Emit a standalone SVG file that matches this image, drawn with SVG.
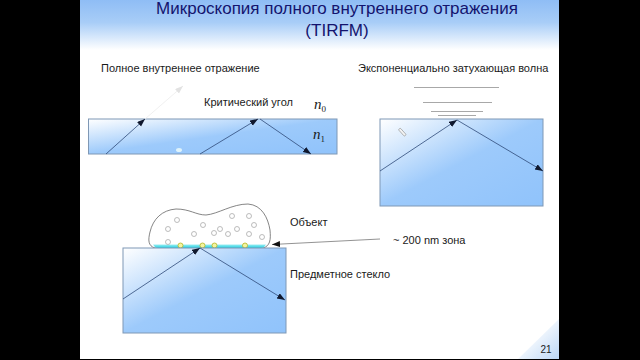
<svg xmlns="http://www.w3.org/2000/svg" width="640" height="360" viewBox="0 0 640 360">
  <style>
    text { font-family: "Liberation Sans", Arial, sans-serif; fill: #1a1a1a; font-size: 11px; }
    .title { font-size: 17px; fill: #14146e; text-anchor: middle; }
    .idx { font-family: "Liberation Serif", "Times New Roman", serif; font-style: italic; font-size: 15px; }
    .idx tspan { font-style: normal; font-size: 9px; }
    .glass { stroke: #7f98b5; stroke-width: 1; }
    .ray { stroke: #2f4a78; stroke-width: 0.8; fill: none; marker-end: url(#head); }
    .wave { stroke: #a8a8a8; stroke-width: 1; }
    .bead { fill: #fff; stroke: #a0a0a0; stroke-width: 0.7; }
    .bound { fill: #f4f4a0; stroke: #b5b520; stroke-width: 0.8; }
  </style>
  <defs>
    <linearGradient id="band" x1="0" y1="0" x2="0" y2="1">
      <stop offset="0" stop-color="#8fbdf5"/>
      <stop offset="0.45" stop-color="#a8cdf7"/>
      <stop offset="1" stop-color="#ffffff"/>
    </linearGradient>
    <linearGradient id="glassFill" x1="0" y1="0" x2="1" y2="1">
      <stop offset="0" stop-color="#ffffff"/>
      <stop offset="0.5" stop-color="#9dcafb"/>
      <stop offset="1" stop-color="#90c3fb"/>
    </linearGradient>
    <linearGradient id="corner" x1="0" y1="0" x2="1" y2="1">
      <stop offset="0.3" stop-color="#ffffff"/>
      <stop offset="1" stop-color="#bcd7f6"/>
    </linearGradient>
    <linearGradient id="zone" x1="0" y1="0" x2="0" y2="1">
      <stop offset="0" stop-color="#9aeef2"/>
      <stop offset="1" stop-color="#20cfe2"/>
    </linearGradient>
    <marker id="head" markerWidth="10" markerHeight="8" refX="8" refY="3" orient="auto" markerUnits="userSpaceOnUse">
      <path d="M0 0L8 3L0 6Z" fill="#10182e"/>
    </marker>
    <marker id="headDark" markerWidth="10" markerHeight="8" refX="8" refY="3" orient="auto" markerUnits="userSpaceOnUse">
      <path d="M0 0L8 3L0 6Z" fill="#111"/>
    </marker>
    <marker id="headPale" markerWidth="10" markerHeight="8" refX="8" refY="3" orient="auto" markerUnits="userSpaceOnUse">
      <path d="M0 0L8 3L0 6Z" fill="#e2e2e2"/>
    </marker>
  </defs>

  <!-- letterbox and slide -->
  <rect width="640" height="360" fill="#000"/>
  <rect x="80" y="0" width="479" height="359" fill="#fff"/>
  <rect x="80" y="0" width="479" height="50" fill="url(#band)"/>
  <path d="M518 359L559 319V359Z" fill="url(#corner)"/>

  <text class="title" x="337" y="14">Микроскопия полного внутреннего отражения</text>
  <text class="title" x="337" y="36">(TIRFM)</text>
  <text x="546" y="353" text-anchor="middle" style="font-size:10px">21</text>

  <!-- total internal reflection -->
  <g id="total-reflection">
    <rect class="glass" x="88.500" y="119" width="248.500" height="35" fill="url(#glassFill)"/>
    <ellipse cx="179" cy="150" rx="3" ry="2" fill="#dff3fb"/>
    <text x="101" y="72">Полное внутреннее отражение</text>
    <text x="204" y="106">Критический угол</text>
    <text class="idx" x="314" y="109">n<tspan dy="3">0</tspan></text>
    <text class="idx" x="313" y="139">n<tspan dy="3">1</tspan></text>
  </g>

  <!-- evanescent wave -->
  <g id="evanescent-wave">
    <rect class="glass" x="380" y="119" width="163" height="87" fill="url(#glassFill)"/>
    <text x="358" y="72">Экспоненциально затухающая волна</text>
    <path class="wave" d="M414 87.500H499M423 102.500H492M431 111.500H483M438 115.500H476"/>
    <rect x="398" y="131" width="9" height="2.500" rx="1" transform="rotate(48 402.500 132)" fill="#f4f4f4" stroke="#8a8a8a" stroke-width="0.6"/>
  </g>

  <!-- specimen on the slide -->
  <g id="specimen">
    <path d="M155 248C148 246 148 240 150 232C153 219 162 210 176 209C190 209 196 215 206 215C218 214 232 204 248 204C262 205 268 218 270 230C271 240 270 246 263 248Z" fill="#fff" stroke="#666" stroke-width="0.8"/>
    <path d="M153 244.500H266Q264 248 261 248H158Q155 248 153 244.500Z" fill="url(#zone)"/>
    <g class="bead">
      <circle cx="177" cy="220" r="2.500"/><circle cx="168" cy="229" r="2.500"/><circle cx="168" cy="242" r="2.500"/>
      <circle cx="203" cy="225" r="2.500"/><circle cx="194" cy="234" r="2.500"/><circle cx="214" cy="233" r="2.500"/>
      <circle cx="220" cy="229" r="2.500"/><circle cx="228" cy="234" r="2.500"/><circle cx="237" cy="229" r="2.500"/>
      <circle cx="232" cy="216" r="2.500"/><circle cx="249" cy="216" r="2.500"/><circle cx="254" cy="225" r="2.500"/>
      <circle cx="249" cy="234" r="2.500"/><circle cx="262" cy="237" r="2.500"/>
    </g>
    <g class="bound">
      <circle cx="180.500" cy="245.500" r="2.500"/><circle cx="202.500" cy="245.500" r="2.500"/>
      <circle cx="214.500" cy="245.500" r="2.500"/><circle cx="245" cy="245.500" r="2.500"/>
    </g>
    <text x="290" y="226">Объект</text>
  </g>

  <g id="zone-label">
    <text x="393" y="244">~ 200 nm зона</text>
  </g>

  <g id="slide-glass">
    <rect class="glass" x="123" y="248" width="163" height="85" fill="url(#glassFill)"/>
    <text x="290" y="278">Предметное стекло</text>
  </g>

  <!-- rays -->
  <g id="connectors">
    <line x1="106" y1="154" x2="145" y2="119" class="ray"/>
    <line x1="145" y1="119" x2="183" y2="86" stroke="#ececec" stroke-width="0.8" marker-end="url(#headPale)"/>
    <line x1="200" y1="154" x2="258" y2="119" class="ray"/>
    <line x1="260" y1="119" x2="311" y2="154" class="ray"/>
    <line x1="380" y1="171" x2="457" y2="120" class="ray"/>
    <line x1="457" y1="120" x2="543" y2="171" class="ray"/>
    <line x1="123" y1="299" x2="200" y2="248" class="ray"/>
    <line x1="200" y1="248" x2="285" y2="300" class="ray"/>
    <line x1="380" y1="239" x2="272" y2="244.500" stroke="#777" stroke-width="0.8" marker-end="url(#headDark)"/>
  </g>
</svg>
